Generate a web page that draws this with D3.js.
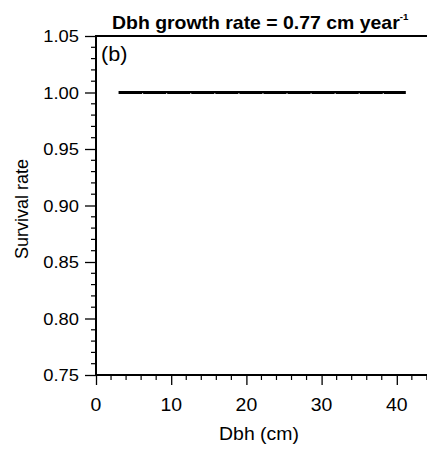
<!DOCTYPE html>
<html>
<head>
<meta charset="utf-8">
<script src="https://cdn.jsdelivr.net/npm/d3@7"></script>
<style>
  body { margin: 0; background: #fff; }
  text { font-family: "Liberation Sans", Arial, sans-serif; fill: #000; }
</style>
</head>
<body>
<svg id="chart" width="427" height="451"></svg>
<script>
// survival curve points (dbh in cm, survival rate)
var dbhValues = [3.0, 6.2, 9.4, 12.6, 15.8, 19.0, 22.2, 25.4, 28.6, 31.8, 35.0, 38.2, 41.2];
var survivalValues = [1, 1, 1, 1, 1, 1, 1, 1, 1, 1, 1, 1, 1];
var xTicks = [0, 10, 20, 30, 40];
var yTicks = [0.75, 0.80, 0.85, 0.90, 0.95, 1.00, 1.05];

var svg = d3.select("#chart");
var plotLeft = 96, plotTop = 36, plotBottom = 375;
var sx = 1.08; // figure looks stretched a bit sideways

var x = d3.scaleLinear().domain([0, 45]).range([plotLeft, plotLeft + 45 * 7.52]);
var y = d3.scaleLinear().domain([0.75, 1.05]).range([plotBottom, plotTop]);

function label(g, px, py, str, size, anchor, weight) {
  return g.append("text")
    .attr("transform", "translate(" + px + "," + py + ") scale(" + sx + ",1)")
    .attr("text-anchor", anchor)
    .style("font-size", size + "px")
    .style("font-weight", weight || "normal")
    .text(str);
}

// minor ticks
var xMinor = d3.range(0, 46, 2).filter(function(d) { return d % 10 != 0; });
var yMinor = d3.range(75, 106, 1).filter(function(d) { return d % 5 != 0; }).map(function(d) { return d / 100; });

svg.append("g").selectAll("line").data(xMinor).enter().append("line")
  .attr("x1", function(d) { return x(d); }).attr("x2", function(d) { return x(d); })
  .attr("y1", plotBottom).attr("y2", plotBottom + 5)
  .attr("stroke", "#000").attr("stroke-width", 1.2);

svg.append("g").selectAll("line").data(yMinor).enter().append("line")
  .attr("x1", plotLeft - 5).attr("x2", plotLeft)
  .attr("y1", function(d) { return y(d); }).attr("y2", function(d) { return y(d); })
  .attr("stroke", "#000").attr("stroke-width", 1.2);

// major ticks via d3 axes
var xAxis = svg.append("g")
  .attr("transform", "translate(0," + plotBottom + ")")
  .call(d3.axisBottom(x).tickValues(xTicks).tickSize(10).tickFormat(""));
var yAxis = svg.append("g")
  .attr("transform", "translate(" + plotLeft + ",0)")
  .call(d3.axisLeft(y).tickValues(yTicks).tickSize(11).tickFormat(""));
[xAxis, yAxis].forEach(function(a) {
  a.select(".domain").remove();
  a.selectAll(".tick line").attr("stroke", "#000").attr("stroke-width", 1.3);
});

// tick labels
xTicks.forEach(function(t) {
  label(svg, x(t), 411, String(t), 18, "middle");
});
yTicks.forEach(function(t) {
  label(svg, 79, y(t) + 6, d3.format(".2f")(t), 17, "end");
});

// frame: left, bottom and top lines
svg.append("line").attr("x1", plotLeft).attr("x2", plotLeft).attr("y1", plotTop - 1).attr("y2", plotBottom + 1)
  .attr("stroke", "#000").attr("stroke-width", 2);
svg.append("line").attr("x1", plotLeft - 1).attr("x2", 427).attr("y1", plotBottom).attr("y2", plotBottom)
  .attr("stroke", "#000").attr("stroke-width", 2);
svg.append("line").attr("x1", plotLeft - 1).attr("x2", 427).attr("y1", plotTop).attr("y2", plotTop)
  .attr("stroke", "#000").attr("stroke-width", 2);

// survival line
var pts = dbhValues.map(function(d, i) { return [d, survivalValues[i]]; });
svg.append("path")
  .datum(pts)
  .attr("fill", "none")
  .attr("stroke", "#000")
  .attr("stroke-width", 3)
  .attr("d", d3.line().x(function(d) { return x(d[0]); }).y(function(d) { return y(d[1]); }));

// little light notches at the points
svg.append("g").selectAll("rect").data(pts.slice(1, -1)).enter().append("rect")
  .attr("x", function(d) { return x(d[0]) - 0.5; })
  .attr("y", function(d) { return y(d[1]) + 0.5; })
  .attr("width", 1).attr("height", 1)
  .attr("fill", "#ddd");

// titles
var title = label(svg, 112, 29, "Dbh growth rate = 0.77 cm year", 18, "start", "bold");
title.append("tspan").attr("dy", -9).style("font-size", "9px").text("-1");

label(svg, 101, 61, "(b)", 20, "start");
label(svg, 259, 440, "Dbh (cm)", 18, "middle");

svg.append("text")
  .attr("transform", "translate(28,209) rotate(-90)")
  .attr("text-anchor", "middle")
  .style("font-size", "18px")
  .text("Survival rate");
</script>
</body>
</html>
